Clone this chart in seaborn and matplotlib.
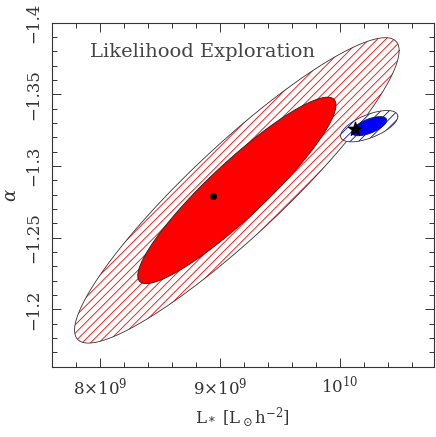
import numpy as np
import pandas as pd
import matplotlib
matplotlib.use("Agg")
import matplotlib.pyplot as plt
from matplotlib.ticker import MultipleLocator, FixedLocator, FixedFormatter
import seaborn as sns

# Likelihood contours (2D gaussian approximations) for the two fits
# red: wide exploration, blue: tight fit
fit_names = ["red", "blue"]
centre_L = [9.14e9, 1.0242e10]
centre_alpha = [-1.283, -1.3278]
sigma_L = [0.544e9, 0.096e9]
sigma_alpha = [0.0429, 0.0044]
rho = [-0.915, -0.62]

# delta chi^2 for 68% and 95% (2 parameters)
dchi2_levels = [2.30, 6.17]

# best-fit points
best_L = [8.942e9, 1.0125e10]
best_alpha = [-1.2788, -1.3257]
best_marker = ["o", "*"]

x_ticks = [8e9, 9e9, 1e10]
x_ticklabels = [r"8$\times$10$^9$", r"9$\times$10$^9$", r"10$^{10}$"]
y_ticks = [-1.4, -1.35, -1.3, -1.25, -1.2]
y_ticklabels = ["\u22121.4", "\u22121.35", "\u22121.3", "\u22121.25", "\u22121.2"]


def contour(i, dchi2):
    # boundary of the dchi2 region from the covariance matrix
    cov = np.array([[sigma_L[i] ** 2, rho[i] * sigma_L[i] * sigma_alpha[i]],
                    [rho[i] * sigma_L[i] * sigma_alpha[i], sigma_alpha[i] ** 2]])
    chol = np.linalg.cholesky(cov)
    t = np.linspace(0, 2 * np.pi, 300)
    circ = np.vstack([np.cos(t), np.sin(t)]) * np.sqrt(dchi2)
    pts = chol @ circ
    return pts[0] + centre_L[i], pts[1] + centre_alpha[i]


sns.set_style("ticks")
plt.rcParams["font.family"] = ["DejaVu Serif"]
plt.rcParams["mathtext.fontset"] = "dejavuserif"
plt.rcParams["hatch.linewidth"] = 0.6

fig = plt.figure(figsize=(4.36, 4.37), dpi=100)
ax = fig.add_axes([0.119, 0.161, 0.876, 0.787])

fill_col = {"red": "#ff0000", "blue": "#0000ff"}
for i, name in enumerate(fit_names):
    c = fill_col[name]
    xo, yo = contour(i, dchi2_levels[1])
    ax.fill(xo, yo, facecolor="white", edgecolor="none", zorder=2 + 2 * i)
    ax.fill(xo, yo, facecolor="none", edgecolor=c, hatch="////", linewidth=0, zorder=2 + 2 * i)
    ax.plot(xo, yo, color="#333333", lw=0.6, zorder=2 + 2 * i)
    xi, yi = contour(i, dchi2_levels[0])
    ax.fill(xi, yi, facecolor=c, edgecolor="#222222", linewidth=0.6, zorder=3 + 2 * i)

best = pd.DataFrame({"L": best_L, "alpha": best_alpha, "m": best_marker})
sns.scatterplot(data=best[best.m == "o"], x="L", y="alpha", marker="o", s=22,
                color="black", edgecolor="black", ax=ax, zorder=10, legend=False)
sns.scatterplot(data=best[best.m == "*"], x="L", y="alpha", marker="*", s=110,
                color="black", edgecolor="black", ax=ax, zorder=10, legend=False)

ax.set_xlim(7.6e9, 1.078e10)
ax.set_ylim(-1.16, -1.4)

ax.xaxis.set_major_locator(FixedLocator(x_ticks))
ax.xaxis.set_major_formatter(FixedFormatter(x_ticklabels))
ax.xaxis.set_minor_locator(MultipleLocator(2e8))
ax.yaxis.set_major_locator(FixedLocator(y_ticks))
ax.yaxis.set_major_formatter(FixedFormatter(y_ticklabels))
ax.yaxis.set_minor_locator(MultipleLocator(0.01))

ax.tick_params(which="both", direction="in", top=True, right=True,
               colors="#333333", labelcolor="#333333", width=0.7)
ax.tick_params(which="major", length=6.5, labelsize=12)
ax.tick_params(which="minor", length=3.5)
ax.tick_params(axis="x", pad=7)
ax.tick_params(axis="y", pad=7)
for lab in ax.get_yticklabels():
    lab.set_rotation(90)
    lab.set_va("center")

for sp in ax.spines.values():
    sp.set_color("#333333")
    sp.set_linewidth(0.8)

ax.set_xlabel(r"L$_*$ [L$_\odot$h$^{-2}$]", fontsize=12, color="#333333", labelpad=5)
ax.set_ylabel(r"$\alpha$", fontsize=13, color="#333333", labelpad=4)

ax.text(0.1, 0.915, "Likelihood Exploration", transform=ax.transAxes,
        fontsize=14, color="#444444", va="center", ha="left")

fig.savefig("out.png", dpi=100)
